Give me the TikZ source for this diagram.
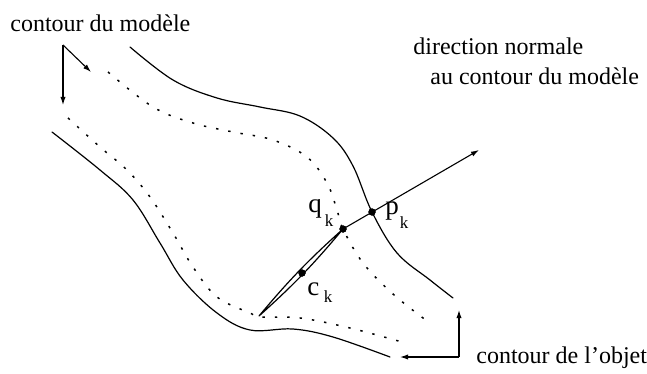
\documentclass[tikz,border=0pt]{standalone}
\usepackage{fontspec}
\setmainfont{Liberation Serif}
\usetikzlibrary{arrows.meta}

\begin{document}
\begin{tikzpicture}[
  x=0.5pt,y=-0.5pt,
  objcontour/.style={line width=.6pt,line cap=round,line join=round},
  modcontour/.style={line width=.75pt,dash pattern=on 1.2pt off 5pt},
  ptdot/.style={circle,fill=black,inner sep=0pt,minimum size=3.6pt},
  labeltext/.style={font=\fontsize{12}{14}\selectfont,anchor=base west,inner sep=0pt},
  ptlabel/.style={font=\fontsize{13.5}{15}\selectfont,anchor=base west,inner sep=0pt},
  callarr/.style={-{Latex[length=4pt,width=2.6pt]},line width=.55pt}
]
  \useasboundingbox (0,0) rectangle (647,374);

  \def\subk#1{\raisebox{#1}{\fontsize{8.5}{9}\selectfont k}}

  % contour de l'objet
  \draw[objcontour] plot[smooth,tension=.6] coordinates {
    (130,47) (173,80) (217,98) (260,107) (300,116) (333,138)
    (353,166) (372,212) (397,253) (430,280) (453,298)};
  \draw[objcontour] plot[smooth,tension=.6] coordinates {
    (52,132) (100,170) (133,200) (160,243) (183,280) (217,313)
    (250,330) (293,329) (333,337) (390,357)};

  % contour du modele
  \draw[modcontour] plot[smooth,tension=.6] coordinates {
    (108,72) (153,107) (193,123) (233,132) (273,140) (307,157)
    (327,183) (337,210) (343,229) (363,263) (393,294) (427,321)};
  \draw[modcontour] plot[smooth,tension=.6] coordinates {
    (68,118) (100,147) (127,170) (150,197) (173,233) (193,267)
    (217,297) (250,313) (260,317) (300,318) (350,328) (402,342)};

  \node[ptdot] (q) at (343,229) {};
  \node[ptdot] (p) at (372,212) {};
  \node[ptdot] (c) at (302,273) {};

  \coordinate (lensTip) at (259,316);
  \coordinate (dirEnd) at (479,150);

  \draw[objcontour] (lensTip) to[bend left=4] (q.center)
    to[bend left=4] (lensTip);
  \draw[callarr] (q.center) -- (dirEnd);

  \node[ptdot] at (q) {};
  \node[ptdot] at (p) {};
  \node[ptdot] at (c) {};

  \node[ptlabel] (qLbl) at (308,212) {q\kern1.5pt\subk{-7pt}};
  \node[ptlabel] (pLbl) at (385,214) {p\kern.5pt\subk{-7pt}};
  \node[ptlabel] (cLbl) at (307,295) {c\kern2.2pt\subk{-3.5pt}};

  % textes
  \node[labeltext] (lblModel) at (10,32) {contour du modèle};
  \node[labeltext] (lblDir) at (413,55) {direction normale};
  \node[labeltext] (lblDirB) at (430,85) {au contour du modèle};
  \node[labeltext] (lblObj) at (476,363) {contour de l’objet};

  \coordinate (cornerM) at (63,45);
  \coordinate (tipM1) at (91,72);
  \coordinate (tipM2) at (63,105);
  \draw[callarr] (cornerM) -- (tipM1);
  \draw[callarr] (cornerM) -- (tipM2);

  \coordinate (cornerO) at (459,357);
  \coordinate (tipO1) at (459,310);
  \coordinate (tipO2) at (400,357);
  \draw[callarr] (cornerO) -- (tipO1);
  \draw[callarr] (cornerO) -- (tipO2);

\end{tikzpicture}
\end{document}
